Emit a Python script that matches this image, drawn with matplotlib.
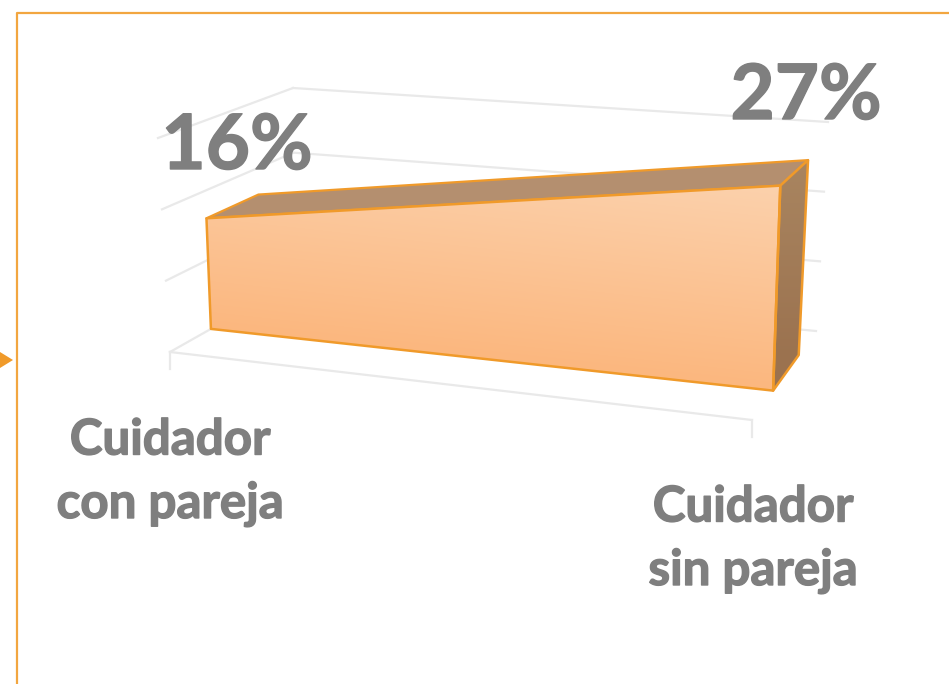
import numpy as np
import matplotlib
matplotlib.use("Agg")
import matplotlib.pyplot as plt
import matplotlib.patheffects as pe
from matplotlib.patches import Polygon
from matplotlib.colors import LinearSegmentedColormap

# Data
categories = ["Cuidador\ncon pareja", "Cuidador\nsin pareja"]
values = [16, 27]
grid_values = [0, 10, 20, 30]
labels = ["16%", "27%"]

# Pseudo 3D box of the chart, in pixels: (category, value, depth) corners
floor_front = [(170, 352), (752, 420)]
floor_back = [(294, 282), (816, 331)]
top_front = [(158, 138), (758, 183)]
top_back = [(293, 88), (828, 122)]
value_max = 30
depth_front = 0.33
depth_back = 0.73

orange = "#F09A2A"
grey = "#7F7F7F"
grid_col = "#E9E9E9"


def project(c, v, d):
    """ Trilinear position of category c (0-1), value v, depth d (0-1). """
    c0 = np.array(floor_front[0]) * (1 - c) + np.array(floor_front[1]) * c
    c1 = np.array(floor_back[0]) * (1 - c) + np.array(floor_back[1]) * c
    c2 = np.array(top_front[0]) * (1 - c) + np.array(top_front[1]) * c
    c3 = np.array(top_back[0]) * (1 - c) + np.array(top_back[1]) * c
    low = c0 * (1 - d) + c1 * d
    high = c2 * (1 - d) + c3 * d
    t = v / value_max
    return low * (1 - t) + high * t


def seg(ax, p, q, **kw):
    ax.plot([p[0], q[0]], [p[1], q[1]], **kw)


fig = plt.figure(figsize=(9.49, 6.84), dpi=100)
ax = fig.add_axes([0, 0, 1, 1])

# Outer frame and little arrow
ax.plot([17.5, 17.5, 949], [684, 12.5, 12.5], color="#F2A640", lw=1.6, zorder=1)
ax.add_patch(Polygon([(0, 352), (13, 360), (0, 368)], color=orange, lw=0, zorder=1))

# Gridlines on the walls
for g in grid_values:
    seg(ax, project(0, g, 0), project(0, g, 1), color=grid_col, lw=1.6, zorder=2)
    seg(ax, project(0, g, 1), project(1, g, 1), color=grid_col, lw=1.6, zorder=2)

# Floor front edge and tick marks
seg(ax, project(0, 0, 0), project(1, 0, 0), color=grid_col, lw=1.6, zorder=2)
for c in [0, 1]:
    p = project(c, 0, 0)
    seg(ax, p, p + np.array([0, 17]), color=grid_col, lw=1.6, zorder=2)

# Area as a solid: top, side, front
fl, fr = project(0, 0, depth_front), project(1, 0, depth_front)
tl, tr = project(0, values[0], depth_front), project(1, values[1], depth_front)
bl, br = project(0, 0, depth_back), project(1, 0, depth_back)
ul, ur = project(0, values[0], depth_back), project(1, values[1], depth_back)

ax.add_patch(Polygon([tl, ul, ur, tr], closed=True, fc="#B48F6F", ec=orange, lw=1.6,
                     joinstyle="round", zorder=3))
side = Polygon([tr, ur, br, fr], closed=True, fc="none", ec="none", zorder=3)
ax.add_patch(side)
front = Polygon([tl, tr, fr, fl], closed=True, fc="none", ec="none", zorder=4)
ax.add_patch(front)

yy, xx = np.mgrid[0:684, 0:949]
front_cmap = LinearSegmentedColormap.from_list("front", ["#FBD1AC", "#FBB57B"])
side_cmap = LinearSegmentedColormap.from_list("side", ["#A98560", "#9B724F"])
shade = (yy - 0.11 * xx - 100) / 220
im = ax.imshow(shade, cmap=front_cmap, vmin=0, vmax=1, extent=(0, 949, 684, 0),
               aspect="auto", zorder=4, interpolation="bilinear")
im.set_clip_path(front)
shade2 = (yy - 160) / 200
im2 = ax.imshow(shade2, cmap=side_cmap, vmin=0, vmax=1, extent=(0, 949, 684, 0),
                aspect="auto", zorder=3, interpolation="bilinear")
im2.set_clip_path(side)

for poly in ([tr, ur, br, fr], [tl, tr, fr, fl]):
    ax.add_patch(Polygon(poly, closed=True, fc="none", ec=orange, lw=1.8,
                         joinstyle="round", zorder=5))

# Text, with a thin stroke since Lato bold is lighter than the original face
bold = [pe.withStroke(linewidth=1.0, foreground=grey)]
ax.text(237, 147, labels[0], family="Lato", weight="bold", fontsize=55, color=grey,
        ha="center", va="center", zorder=6, path_effects=bold)
ax.text(806, 97, labels[1], family="Lato", weight="bold", fontsize=55, color=grey,
        ha="center", va="center", zorder=6, path_effects=bold)
ax.text(170, 472, categories[0], family="Lato", weight="bold", fontsize=35.5, color=grey,
        ha="center", va="center", linespacing=1.5, zorder=6, path_effects=bold)
ax.text(753, 539, categories[1], family="Lato", weight="bold", fontsize=35.5, color=grey,
        ha="center", va="center", linespacing=1.5, zorder=6, path_effects=bold)

ax.set_xlim(0, 949)
ax.set_ylim(684, 0)
ax.axis("off")

fig.savefig("out.png", dpi=100)
